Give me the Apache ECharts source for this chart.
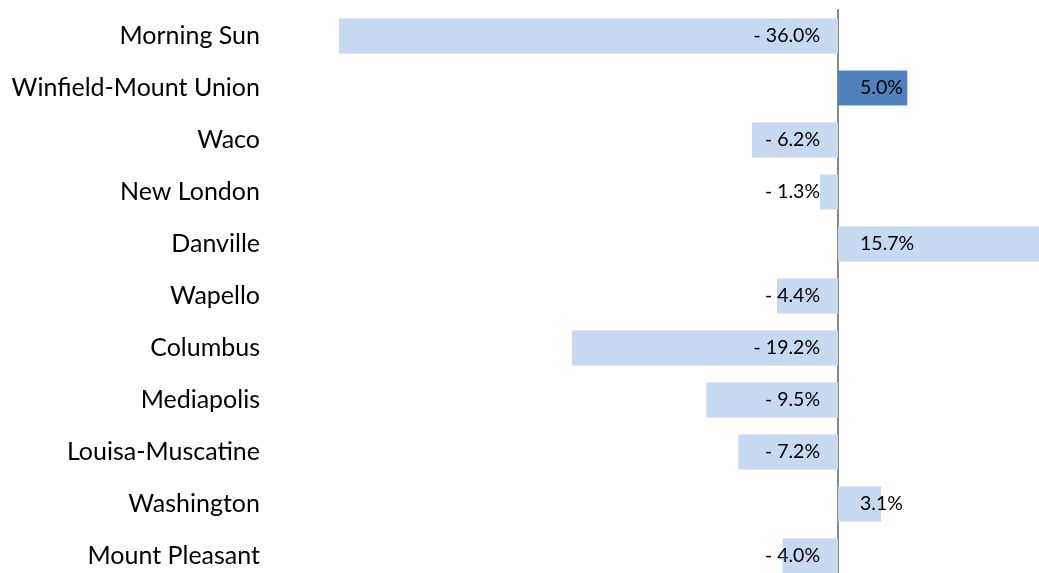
<!DOCTYPE html>
<html>
<head>
<meta charset="utf-8">
<script src="https://cdn.jsdelivr.net/npm/echarts@6/dist/echarts.min.js"></script>
<style>
  html, body { margin: 0; padding: 0; background: #fff; overflow: hidden; }
  #chart { width: 1039px; height: 582px; }
</style>
</head>
<body>
<div id="chart"></div>
<script>
const categories = ['Morning Sun', 'Winfield-Mount Union', 'Waco', 'New London', 'Danville',
  'Wapello', 'Columbus', 'Mediapolis', 'Louisa-Muscatine', 'Washington', 'Mount Pleasant']
const changes = [-36.0, 5.0, -6.2, -1.3, 15.7, -4.4, -19.2, -9.5, -7.2, 3.1, -4.0]
const highlighted = ['Winfield-Mount Union']

const fmt = v => (v < 0 ? '- ' + Math.abs(v).toFixed(1) : v.toFixed(1)) + '%'

// the plot runs a little past the bottom edge of the window, like the original
const chart = echarts.init(document.getElementById('chart'))
chart.setOption({
  animation: false,
  grid: { left: 339, right: 0, top: 10, bottom: 0, containLabel: false },
  xAxis: {
    type: 'value',
    min: -36,
    max: 14.5,
    show: false,
    splitLine: { show: false }
  },
  yAxis: {
    type: 'category',
    data: categories,
    inverse: true,
    axisLine: { onZero: true, lineStyle: { color: '#898989', width: 2 } },
    axisTick: { show: false },
    axisLabel: {
      margin: 79,
      fontFamily: 'Lato',
      fontSize: 25,
      color: '#000'
    }
  },
  series: [{
    type: 'bar',
    barCategoryGap: '33%',
    data: changes.map((v, i) => ({
      value: v,
      itemStyle: { color: highlighted.includes(categories[i]) ? '#4F81BD' : '#C6D9F1' },
      label: v < 0
        ? { position: 'insideRight', distance: 18 }
        : { position: 'insideLeft', distance: 22 }
    })),
    label: {
      show: true,
      formatter: p => fmt(p.value),
      fontFamily: 'Lato',
      fontSize: 19.5,
      color: '#000'
    }
  }]
})
</script>
</body>
</html>
